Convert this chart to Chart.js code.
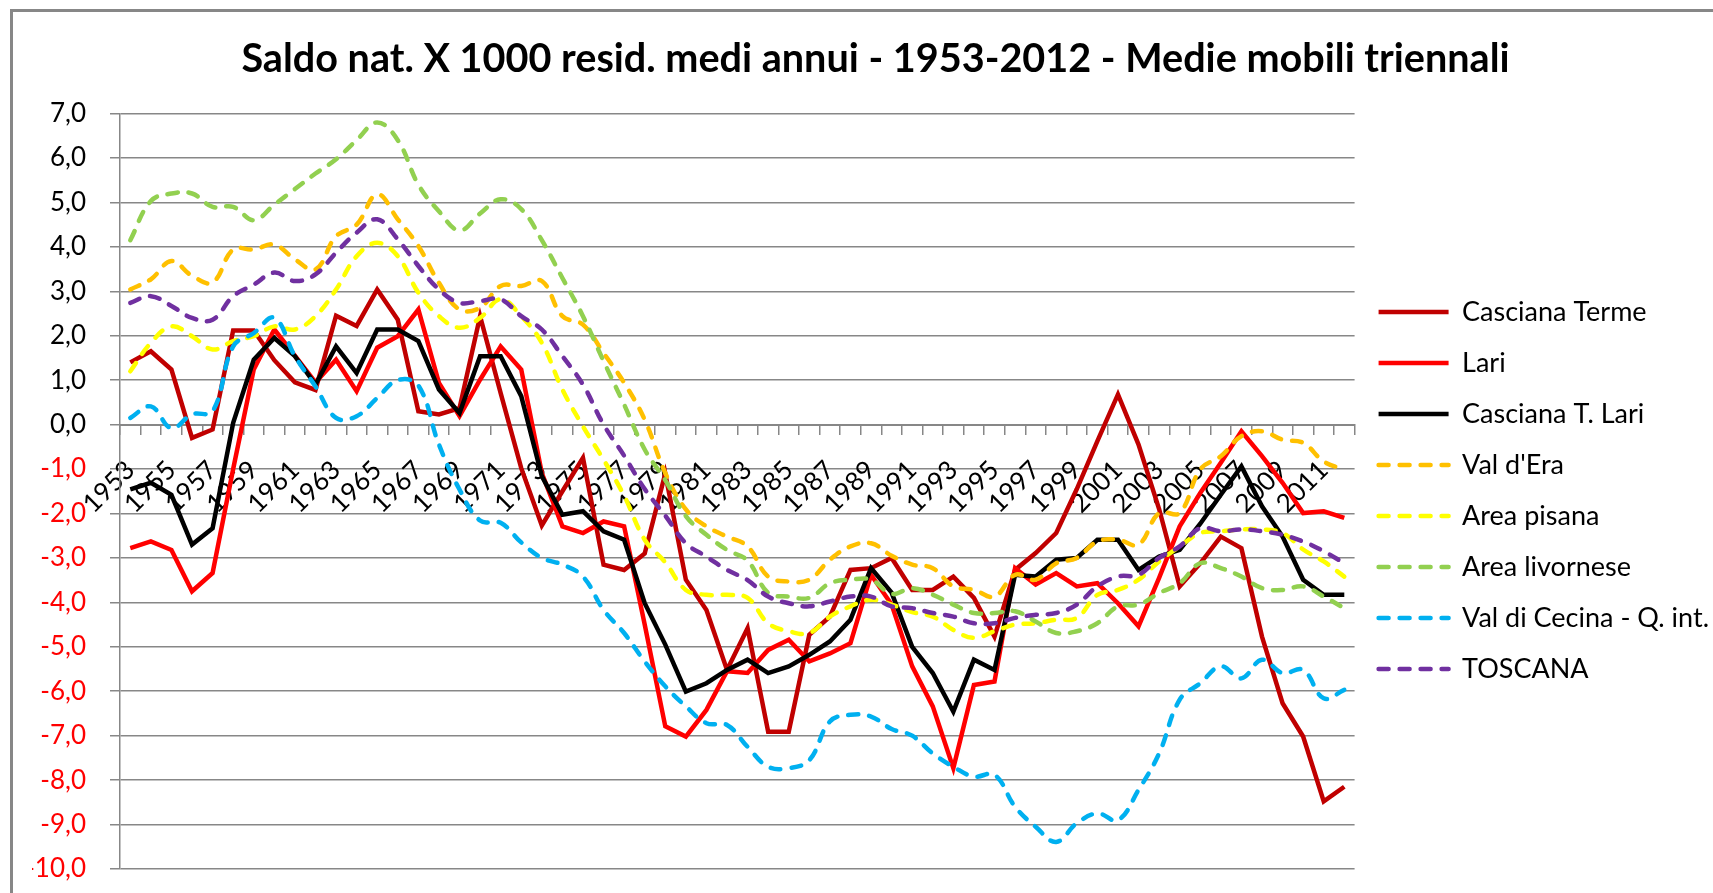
<!DOCTYPE html>
<html>
<head>
<meta charset="utf-8">
<script src="https://cdn.jsdelivr.net/npm/chart.js@4"></script>
<style>
  html, body { margin: 0; padding: 0; background: #fff; overflow: hidden; }
  #wrap { position: relative; width: 1713px; height: 893px; }
  #frame { position: absolute; left: 10px; top: 9px; width: 1800px; height: 1000px;
           border-left: 3px solid #878787; border-top: 3px solid #878787; }
  #chart { position: absolute; left: 0; top: 0; }
</style>
</head>
<body>
<div id="wrap">
  <div id="frame"></div>
  <canvas id="chart" width="1713" height="893"></canvas>
</div>
<script>
const years = ['1953','1954','1955','1956','1957','1958','1959','1960','1961','1962',
  '1963','1964','1965','1966','1967','1968','1969','1970','1971','1972',
  '1973','1974','1975','1976','1977','1978','1979','1980','1981','1982',
  '1983','1984','1985','1986','1987','1988','1989','1990','1991','1992',
  '1993','1994','1995','1996','1997','1998','1999','2000','2001','2002',
  '2003','2004','2005','2006','2007','2008','2009','2010','2011','2012'];

const cascianaTerme = [1.40, 1.65, 1.24, -0.30, -0.11, 2.12, 2.12, 1.45, 0.95, 0.78,
  2.45, 2.22, 3.04, 2.36, 0.30, 0.23, 0.37, 2.44, 0.71, -0.98,
  -2.27, -1.50, -0.75, -3.15, -3.27, -2.90, -1.10, -3.49, -4.17, -5.52,
  -4.58, -6.91, -6.91, -4.73, -4.32, -3.27, -3.23, -3.00, -3.72, -3.72,
  -3.42, -3.90, -4.77, -3.27, -2.89, -2.44, -1.45, -0.37, 0.68, -0.45,
  -1.90, -3.64, -3.12, -2.52, -2.78, -4.77, -6.27, -7.02, -8.48, -8.15];

const lari = [-2.78, -2.63, -2.82, -3.75, -3.34, -1.00, 1.24, 2.14, 1.55, 0.95,
  1.46, 0.75, 1.73, 1.99, 2.59, 0.94, 0.19, 1.01, 1.76, 1.24,
  -1.09, -2.29, -2.44, -2.18, -2.29, -4.50, -6.79, -7.02, -6.42, -5.55,
  -5.59, -5.07, -4.84, -5.33, -5.15, -4.92, -3.38, -4.05, -5.44, -6.34,
  -7.73, -5.86, -5.78, -3.23, -3.60, -3.34, -3.64, -3.57, -4.02, -4.54,
  -3.45, -2.29, -1.54, -0.86, -0.15, -0.71, -1.31, -1.99, -1.95, -2.10];

const cascianaTLari = [-1.46, -1.31, -1.58, -2.70, -2.33, 0.04, 1.46, 1.95, 1.54, 0.90,
  1.76, 1.16, 2.14, 2.14, 1.88, 0.79, 0.26, 1.54, 1.54, 0.64,
  -1.16, -2.03, -1.95, -2.40, -2.59, -4.02, -4.95, -6.01, -5.82, -5.52,
  -5.29, -5.59, -5.44, -5.18, -4.88, -4.39, -3.23, -3.78, -5.00, -5.59,
  -6.46, -5.29, -5.52, -3.38, -3.42, -3.04, -3.00, -2.59, -2.59, -3.27,
  -2.97, -2.82, -2.23, -1.58, -0.94, -1.84, -2.52, -3.49, -3.83, -3.83];

const valDEra = [3.04, 3.27, 3.68, 3.35, 3.20, 3.94, 3.94, 4.05, 3.72, 3.49,
  4.24, 4.50, 5.18, 4.62, 4.02, 3.19, 2.59, 2.63, 3.12, 3.12,
  3.23, 2.44, 2.25, 1.61, 0.94, 0.11, -1.09, -1.91, -2.29, -2.52,
  -2.74, -3.42, -3.53, -3.49, -3.04, -2.74, -2.67, -2.95, -3.15, -3.23,
  -3.64, -3.72, -3.87, -3.38, -3.49, -3.12, -3.00, -2.63, -2.59, -2.70,
  -1.99, -1.99, -1.01, -0.71, -0.26, -0.15, -0.34, -0.41, -0.83, -1.01];

const areaPisana = [1.20, 1.84, 2.21, 1.99, 1.69, 1.88, 1.99, 2.21, 2.14, 2.44,
  3.04, 3.79, 4.09, 3.79, 2.97, 2.44, 2.18, 2.40, 2.82, 2.44,
  1.84, 0.79, -0.04, -0.79, -1.60, -2.59, -3.10, -3.72, -3.83, -3.83,
  -3.90, -4.47, -4.65, -4.69, -4.32, -4.09, -3.94, -4.05, -4.22, -4.32,
  -4.62, -4.80, -4.65, -4.50, -4.47, -4.39, -4.35, -3.83, -3.72, -3.49,
  -3.08, -2.74, -2.44, -2.40, -2.36, -2.36, -2.44, -2.81, -3.08, -3.42];

const areaLivornese = [4.15, 5.03, 5.20, 5.20, 4.90, 4.90, 4.60, 4.95, 5.30, 5.65,
  5.97, 6.40, 6.80, 6.40, 5.40, 4.80, 4.37, 4.75, 5.07, 4.85,
  4.15, 3.30, 2.44, 1.43, 0.45, -0.56, -1.25, -2.06, -2.48, -2.82,
  -3.06, -3.79, -3.87, -3.90, -3.57, -3.49, -3.49, -3.81, -3.68, -3.83,
  -4.05, -4.24, -4.24, -4.20, -4.43, -4.69, -4.65, -4.47, -4.09, -4.05,
  -3.79, -3.57, -3.12, -3.23, -3.42, -3.68, -3.72, -3.64, -3.87, -4.13];

const valDiCecina = [0.15, 0.41, -0.08, 0.23, 0.30, 1.76, 2.06, 2.40, 1.54, 0.86,
  0.15, 0.19, 0.60, 1.00, 0.88, -0.45, -1.46, -2.16, -2.21, -2.65,
  -3.00, -3.15, -3.42, -4.17, -4.69, -5.33, -5.89, -6.34, -6.72, -6.76,
  -7.25, -7.70, -7.73, -7.55, -6.68, -6.53, -6.57, -6.85, -7.00, -7.40,
  -7.70, -7.92, -7.88, -8.60, -9.05, -9.39, -8.97, -8.75, -8.90, -8.22,
  -7.40, -6.19, -5.82, -5.44, -5.71, -5.29, -5.59, -5.52, -6.16, -5.97];

const toscana = [2.74, 2.89, 2.67, 2.40, 2.36, 2.89, 3.15, 3.42, 3.23, 3.38,
  3.87, 4.32, 4.62, 4.17, 3.57, 3.04, 2.74, 2.78, 2.82, 2.44,
  2.14, 1.54, 0.90, 0.00, -0.70, -1.45, -2.05, -2.67, -2.97, -3.27,
  -3.50, -3.87, -4.02, -4.09, -3.98, -3.87, -3.87, -4.09, -4.13, -4.24,
  -4.32, -4.47, -4.47, -4.35, -4.28, -4.24, -4.05, -3.64, -3.42, -3.38,
  -3.00, -2.74, -2.33, -2.40, -2.36, -2.40, -2.48, -2.63, -2.85, -3.12];

const FONT = 'Lato';
const GRID = '#878787';
const DASH = [10, 11];

function solid(label, data, color) {
  return { label, data, borderColor: color, backgroundColor: color, borderWidth: 4.5,
    pointRadius: 0, tension: 0, borderJoinStyle: 'miter' };
}
function dashed(label, data, color) {
  return { label, data, borderColor: color, backgroundColor: color, borderWidth: 4.5,
    borderDash: DASH, borderCapStyle: 'round', pointRadius: 0, tension: 0.4 };
}

const datasets = [
  solid('Casciana Terme', cascianaTerme, '#C00000'),
  solid('Lari', lari, '#FF0000'),
  solid('Casciana T. Lari', cascianaTLari, '#000000'),
  dashed("Val d'Era", valDEra, '#FFC000'),
  dashed('Area pisana', areaPisana, '#FFFF00'),
  dashed('Area livornese', areaLivornese, '#92D050'),
  dashed('Val di Cecina - Q. int.', valDiCecina, '#00B0F0'),
  dashed('TOSCANA', toscana, '#7030A0')
];
// later series on top, as in the original spreadsheet
datasets.forEach((d, i) => { d.order = -i; });

new Chart(document.getElementById('chart'), {
  type: 'line',
  data: { labels: years, datasets },
  options: {
    responsive: false,
    animation: false,
    layout: { padding: { left: 32, right: -6, top: 0, bottom: 24 } },
    plugins: {
      title: {
        display: true,
        text: 'Saldo nat. X 1000 resid. medi annui - 1953-2012 - Medie mobili triennali',
        color: '#000',
        font: { family: FONT, size: 39.6, weight: 'bold' },
        padding: { top: 35, bottom: 31 }
      },
      legend: {
        position: 'right',
        align: 'center',
        title: { display: true, text: '', font: { size: 10 }, padding: { top: 50, bottom: 50 } },
        labels: {
          usePointStyle: true,
          pointStyle: 'line',
          pointStyleWidth: 70,
          color: '#000',
          font: { family: FONT, size: 27 },
          padding: 24,
          sort: (a, b) => a.datasetIndex - b.datasetIndex,
          generateLabels: (chart) => chart.data.datasets.map((d, i) => ({
            text: d.label,
            datasetIndex: i,
            fillStyle: d.borderColor,
            strokeStyle: d.borderColor,
            fontColor: '#000',
            lineWidth: 4.5,
            lineDash: d.borderDash || [],
            lineCap: d.borderDash ? 'round' : 'butt',
            pointStyle: 'line',
            hidden: false
          }))
        }
      },
      tooltip: { enabled: false }
    },
    scales: {
      x: {
        position: { y: 0 },
        offset: true,
        grid: { offset: true, drawOnChartArea: false, drawTicks: true, tickLength: 9,
                color: GRID, lineWidth: 1.5 },
        border: { display: true, color: GRID, width: 2 },
        ticks: {
          autoSkip: false, minRotation: 45, maxRotation: 45, padding: 21,
          color: '#000', font: { family: FONT, size: 26 },
          callback: (v, i) => (i % 2 === 0 ? years[i] : '')
        }
      },
      y: {
        min: -10, max: 7,
        grid: { color: GRID, lineWidth: 1.5, tickLength: 10 },
        border: { display: true, color: GRID, width: 1.5 },
        ticks: {
          stepSize: 1, padding: 24,
          font: { family: FONT, size: 26 },
          color: (ctx) => (ctx.tick && ctx.tick.value < 0 ? '#FF0000' : '#000000'),
          callback: (v) => v.toFixed(1).replace('.', ',')
        },
        afterFit: (s) => { s.width = 88; s.paddingTop = 0; s.paddingBottom = 0; }
      }
    }
  }
});
</script>
</body>
</html>
